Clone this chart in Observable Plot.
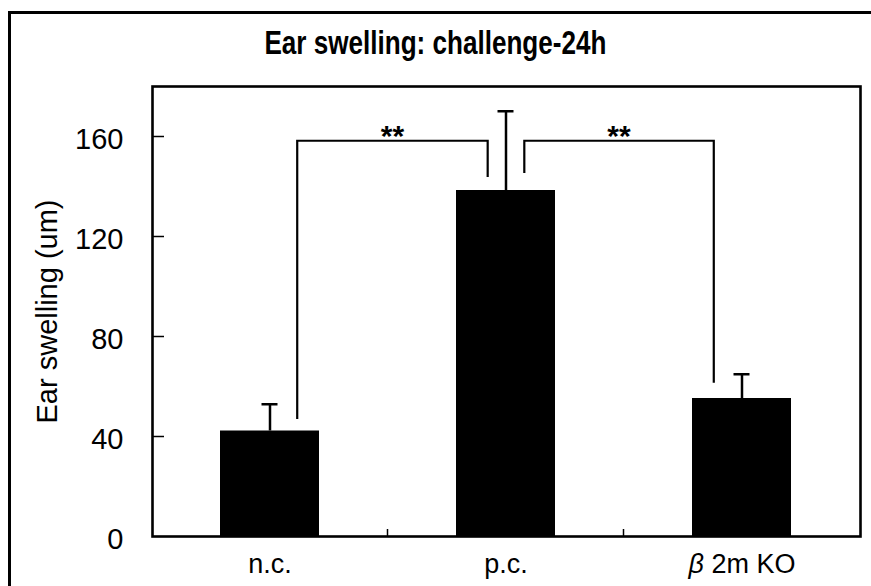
<!DOCTYPE html>
<html><head><meta charset="utf-8">
<script src="https://cdn.jsdelivr.net/npm/d3@7"></script>
<script src="https://cdn.jsdelivr.net/npm/@observablehq/plot@0.6"></script>
<style>
body{margin:0;background:#fff;}
#wrap{position:relative;width:871px;height:586px;overflow:hidden;background:#fff;}
#border{position:absolute;left:8px;top:11px;width:900px;height:620px;border-left:3px solid #000;border-top:3px solid #000;}
#title{position:absolute;left:0;top:24px;width:871px;text-align:center;}
#title span{display:inline-block;font:bold 33px "Liberation Sans",Arial,sans-serif;color:#000;transform:scaleX(0.79);transform-origin:center;}
#chart{position:absolute;left:0;top:0;}
</style></head><body>
<div id="wrap"><div id="border"></div><div id="chart"></div><div id="title"><span></span></div></div>
<script>
const title = "Ear swelling: challenge-24h";
const yLabel = "Ear swelling (um)";
const categories = ["n.c.", "p.c.", "β 2m KO"];
const means = [42.2, 138.4, 55.2];
const errors = [10.7, 31.7, 9.7];
const yTicks = [0, 40, 80, 120, 160];
const bracketFrom = ["n.c.", "p.c."];
const bracketTo = ["p.c.", "β 2m KO"];
const bracketY = [158.1, 158.1];
const bracketFromEnd = [46.8, 145.2];
const bracketToEnd = [143.6, 61.3];
const bracketLabels = ["**", "**"];

const data = categories.map((c, i) => ({cat: c, mean: means[i], top: means[i] + errors[i]}));
const brackets = bracketFrom.map((f, i) => ({from: f, to: bracketTo[i], y: bracketY[i], fromEnd: bracketFromEnd[i], toEnd: bracketToEnd[i], label: bracketLabels[i]}));

document.querySelector("#title span").textContent = title;

const W = 871, H = 586, ML = 152, MR = 11, MT = 86, MB = 50;
const plotW = W - ML - MR;
const font = '"Liberation Sans", Arial, sans-serif';

function annotations(index, scales) {
  const sx = scales.x, sy = scales.y;
  const bw = typeof sx.bandwidth === "function" ? sx.bandwidth() : scales.scales.x.bandwidth;
  const cx = c => sx(c) + bw / 2;
  const g = d3.create("svg:g");
  const lines = g.append("g").attr("fill", "none").attr("stroke", "#000").attr("stroke-width", 2.2);
  for (const b of brackets) {
    const x1 = cx(b.from) + (b.from === "p.c." ? 0.19 : 0.28) * bw;
    const x2 = cx(b.to) - (b.to === "p.c." ? 0.18 : 0.28) * bw;
    const y = sy(b.y);
    lines.append("path").attr("d", `M${x1},${sy(b.fromEnd)}V${y}H${x2}V${sy(b.toEnd)}`);
    g.append("text").attr("x", (x1 + x2) / 2).attr("y", y + 5).attr("text-anchor", "middle")
      .attr("font-family", font).attr("font-weight", "bold").attr("font-size", 30).text(b.label);
  }
  // separator ticks on the x axis between categories
  const yb = sy(0);
  for (let i = 0; i < categories.length - 1; i++) {
    const xm = (cx(categories[i]) + cx(categories[i + 1])) / 2;
    lines.append("path").attr("d", `M${xm},${yb}V${yb - 7}`).attr("stroke-width", 1.5);
  }
  return g.node();
}

const chart = Plot.plot({
  width: W, height: H,
  marginLeft: ML, marginRight: MR, marginTop: MT, marginBottom: MB,
  style: {fontFamily: font, background: "transparent", color: "#000"},
  x: {domain: categories, paddingInner: 0.58, paddingOuter: 0.29, axis: null},
  y: {domain: [0, 180], axis: null},
  marks: [
    Plot.barY(data, {x: "cat", y: "mean", fill: "#000"}),
    Plot.ruleX(data, {x: "cat", y1: "mean", y2: "top", stroke: "#000", strokeWidth: 2.5}),
    Plot.tickY(data, {x: "cat", y: "top", stroke: "#000", strokeWidth: 2.5, insetLeft: 41.5, insetRight: 41.5}),
    Plot.ruleY(yTicks.filter(d => d > 0), {y: d => d, insetRight: plotW - 12, stroke: "#000", strokeWidth: 1.5}),
    Plot.text(yTicks, {y: d => d, text: d => String(d), frameAnchor: "left", dx: -29, dy: 3, textAnchor: "end", lineAnchor: "middle", fontSize: 29, fill: "#000"}),
    Plot.text(categories, {x: d => d, text: d => d, frameAnchor: "bottom", dy: 28, textAnchor: "middle", lineAnchor: "middle", fontSize: 27, fill: "#000"}),
    Plot.text([yLabel], {frameAnchor: "left", rotate: -90, dx: -105, fontSize: 29, textAnchor: "middle", lineAnchor: "middle", fill: "#000"}),
    annotations,
    Plot.frame({stroke: "#000", strokeWidth: 2.6})
  ]
});
document.getElementById("chart").append(chart);

// italic beta in the tick label
d3.select(chart).selectAll("text").each(function () {
  if (this.textContent === "β 2m KO" && !this.querySelector("tspan")) {
    const t = d3.select(this);
    t.text("");
    t.append("tspan").attr("font-style", "italic").text("β");
    t.append("tspan").text(" 2m KO");
  }
});
</script>
</body></html>
